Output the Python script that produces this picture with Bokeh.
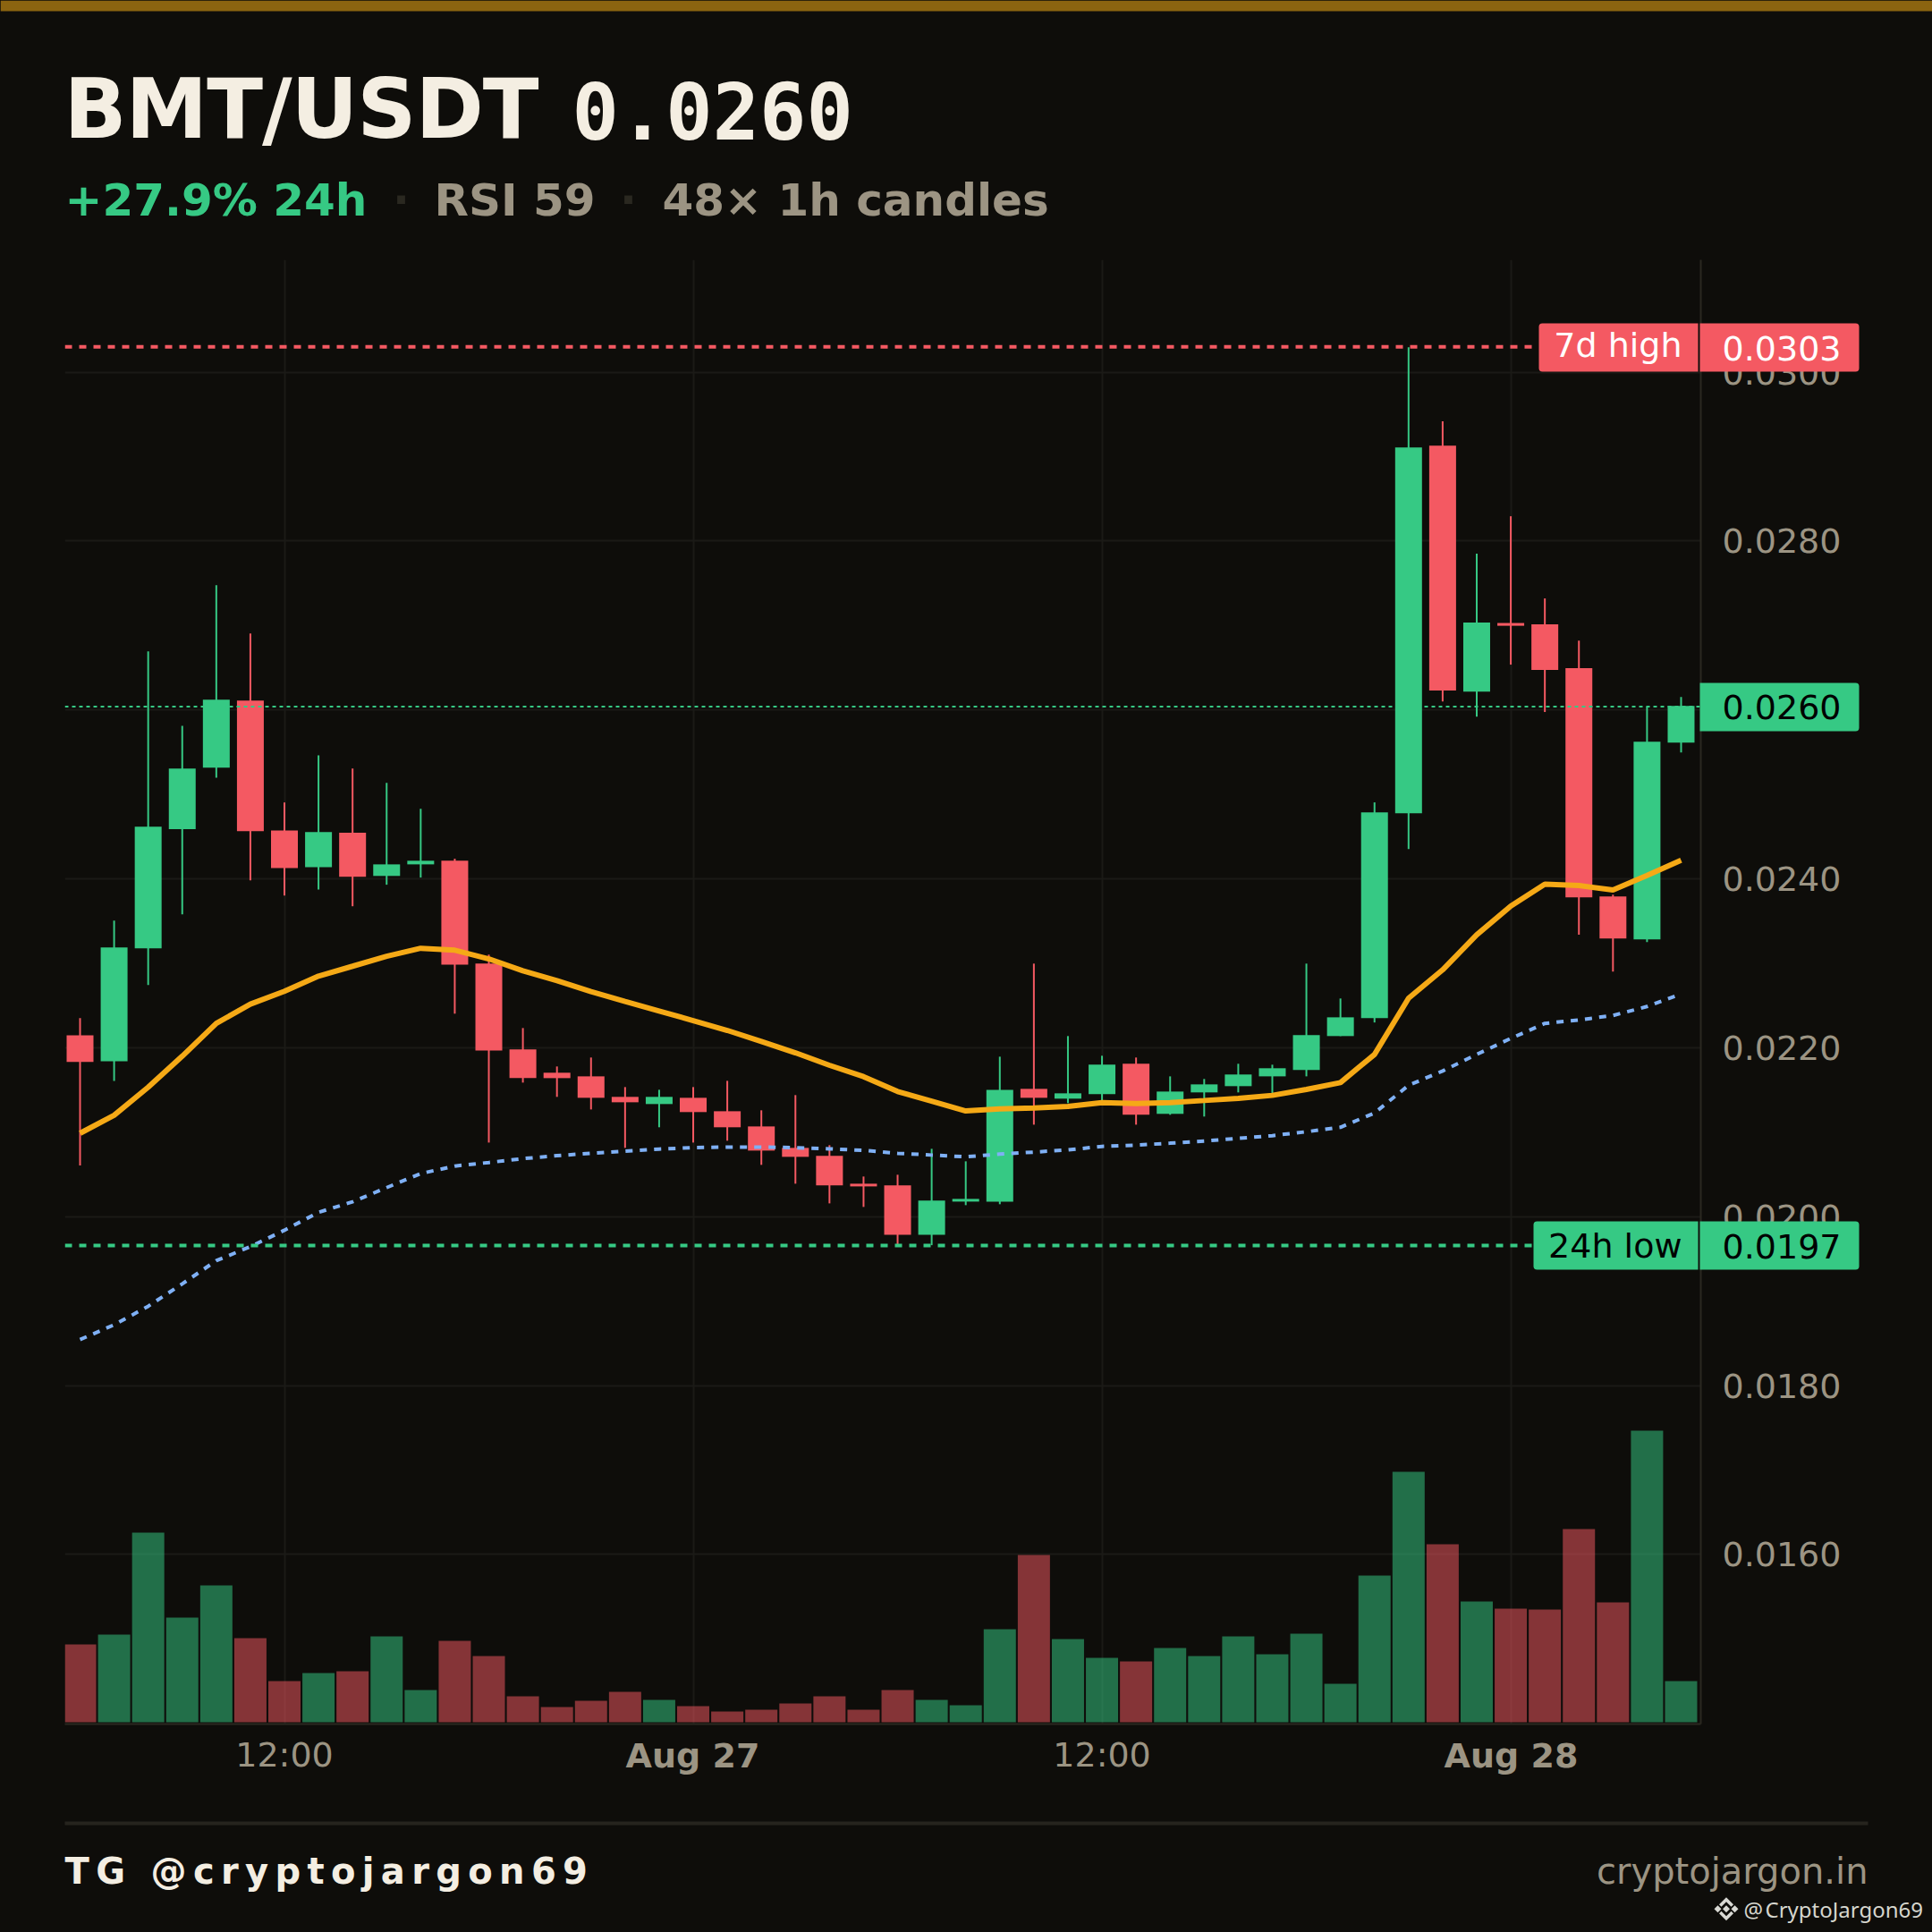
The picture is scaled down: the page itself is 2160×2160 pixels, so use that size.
from bokeh.plotting import figure
from bokeh.embed import file_html
from bokeh.resources import INLINE
from bokeh.models import (Range1d, FixedTicker, NumeralTickFormatter, Label,
                          BoxAnnotation, PolyAnnotation)

highs = [.022352,.023505,.026693,.025813,.027478,.026906,.024905,.025463,.025307,.025137,.024830,.024239,
         .023103,.022234,.021779,.021885,.021535,.021503,.021535,.021609,.021260,.021440,.020847,.020476,
         .020497,.020804,.020656,.021895,.022997,.022139,.021906,.021885,.021662,.021631,.021811,.021800,
         .022997,.022584,.024906,.030296,.029419,.027851,.028294,.027321,.026821,.023813,.026040,.026154]
opens = [.022148,.021840,.023179,.024588,.025317,.026111,.024574,.024139,.024546,.024035,.024172,.024215,
         .022997,.021980,.021705,.021662,.021419,.021334,.021408,.021249,.021069,.020815,.020720,.020391,
         .020370,.019787,.020179,.020179,.021514,.021398,.021451,.021811,.021218,.021472,.021546,.021662,
         .021737,.022139,.022351,.024777,.029131,.026218,.027030,.027013,.026495,.023792,.023284,.025613]
closes = [.021832,.023189,.024617,.025307,.026121,.024565,.024129,.024555,.024026,.024172,.024215,.022985,
          .021969,.021641,.021641,.021408,.021355,.021419,.021239,.021059,.020783,.020709,.020370,.020359,
          .019787,.020190,.020211,.021503,.021408,.021461,.021800,.021207,.021482,.021567,.021684,.021758,
          .022150,.022361,.024787,.029109,.026230,.027035,.026997,.026473,.023781,.023295,.025624,.026048]
lows = [.020606,.021609,.022744,.023581,.025198,.023983,.023803,.023874,.023676,.023931,.024016,.022404,
        .020878,.021588,.021419,.021270,.020815,.021059,.020878,.020900,.020614,.020391,.020158,.020116,
        .019671,.019663,.020137,.020148,.021090,.021345,.021355,.021090,.021207,.021186,.021472,.021451,
        .021662,.022139,.022300,.024353,.026101,.025921,.026537,.025976,.023338,.022902,.023251,.025497]
ema_fast = [.020988,.021202,.021533,.021901,.022289,.022517,.022669,.022849,.022966,.023084,.023179,.023156,
            .023053,.022912,.022796,.022665,.022549,.022436,.022322,.022206,.022075,.021941,.021793,.021659,
            .021482,.021369,.021252,.021278,.021288,.021305,.021352,.021341,.021352,.021376,.021401,.021437,
            .021507,.021588,.021922,.022587,.022923,.023338,.023678,.023938,.023922,.023868,.024041,.024220]
ema_slow = [.018545,.018720,.018940,.019205,.019480,.019646,.019840,.020052,.020176,.020345,.020511,.020600,
            .020642,.020688,.020723,.020751,.020776,.020801,.020818,.020825,.020825,.020818,.020804,.020786,
            .020751,.020730,.020709,.020741,.020765,.020791,.020833,.020847,.020871,.020896,.020928,.020960,
            .021006,.021059,.021228,.021556,.021726,.021922,.022111,.022289,.022330,.022383,.022489,.022637]
volumes = [87,98,212,117,153,94,46,55,57,96,36,91,74,29,17,24,34,25,18,12,14,21,29,14,
           36,25,19,104,187,93,72,68,83,74,96,76,99,43,164,280,199,135,127,126,216,134,326,46]
price_ticks = [0.016,0.018,0.020,0.022,0.024,0.026,0.028,0.030]
time_ticks = {6:"12:00",18:"Aug 27",30:"12:00",42:"Aug 28"}
high_7d, low_24h, last_price = 0.03030, 0.01966, 0.02604

BG, GREEN, RED = "#0e0d0a", "#36c984", "#f45962"
CREAM, MUTED, RULE, GRID = "#f4eee2", "#9c9483", "#2a2820", "#1b1a16"
FONT = "DejaVu Sans"

xs = list(range(len(closes)))
up = [c >= o_ for o_, c in zip(opens, closes)]
cols = [GREEN if u else RED for u in up]

p = figure(width=2160, height=2160, output_backend="svg", toolbar_location=None,
           x_range=Range1d(-0.4464, 47.578), y_range=Range1d(0.013993, 0.03133),
           y_axis_location="right", min_border_left=72, min_border_right=259,
           min_border_top=290, min_border_bottom=233,
           background_fill_color=None, border_fill_color=None, outline_line_color=None,
           styles={"background-color": BG})
p.extra_y_ranges = {"vol": Range1d(-2, 1635)}

p.yaxis.ticker = FixedTicker(ticks=price_ticks)
p.yaxis.formatter = NumeralTickFormatter(format="0.0000")
p.xaxis.ticker = FixedTicker(ticks=list(time_ticks))
p.xaxis.major_label_overrides = {k: (v if ":" in v else " ") for k, v in time_ticks.items()}
for ax in (p.xaxis[0], p.yaxis[0]):
    ax.axis_line_color = RULE
    ax.axis_line_width = 2
    ax.major_tick_line_color = None
    ax.minor_tick_line_color = None
    ax.major_label_text_color = MUTED
    ax.major_label_text_font = FONT
    ax.major_label_text_font_size = "38px"
p.yaxis.major_label_standoff = 18
p.xaxis.major_label_standoff = 6
p.grid.grid_line_color = GRID
p.grid.grid_line_width = 2

p.vbar(xs, width=0.945, bottom=0, top=volumes, fill_color=cols, fill_alpha=0.52, line_color=None,
       y_range_name="vol")
p.segment(xs, lows, xs, highs, line_color=cols, line_width=2)
p.vbar(xs, width=0.788, bottom=opens, top=closes, fill_color=cols, line_color=None)
p.line(xs, ema_slow, line_color="#7fb0f5", line_width=4, line_dash="8 8")
p.line(xs, ema_fast, line_color="#f5a916", line_width=6)
p.segment([-0.4464], [high_7d], [42.62], [high_7d], line_color=RED, line_width=4, line_dash="8 8")
p.segment([-0.4464], [low_24h], [42.62], [low_24h], line_color=GREEN, line_width=4, line_dash="8 8")
p.segment([-0.4464], [last_price], [47.578], [last_price], line_color=GREEN, line_width=2, line_dash="4 4")

# Second, transparent layer: title block, price tags and footer, placed in page pixels.
o = figure(width=2160, height=2160, output_backend="svg", toolbar_location=None,
           x_range=Range1d(0, 2160), y_range=Range1d(2160, 0), x_axis_type=None, y_axis_type=None,
           min_border=0, background_fill_color=None, border_fill_color=None, outline_line_color=None,
           styles={"position": "absolute", "left": "0px", "top": "0px"})
o.grid.visible = False

BASELINE_K = 0.35


def box(x0, y0, x1, y1, color, radius=0):
    o.add_layout(BoxAnnotation(left=x0, right=x1, top=y0, bottom=y1,
                               fill_color=color, fill_alpha=1, line_color=None,
                               border_radius=radius))


def text(x, y, s, color, size, style="normal", align="left", font=FONT):
    o.add_layout(Label(x=x, y=y - BASELINE_K * size, text=s, text_color=color, text_font=font,
                       text_font_size=f"{size}px", text_font_style=style,
                       text_align=align, text_baseline="alphabetic"))


box(0, 0, 2160, 12, "#8b6410")
box(72, 2036, 2088, 2040, "#26241e")

text(71, 154, "BMT/USDT", CREAM, 92, "bold")
text(639, 154, "0.0260", CREAM, 87, "bold", font="DejaVu Sans Mono")
text(72, 241, "+27.9% 24h", GREEN, 50, "bold")
text(448, 241, "·", RULE, 50, "bold", "center")
text(485, 241, "RSI 59", MUTED, 50, "bold")
text(702, 241, "·", RULE, 50, "bold", "center")
text(740, 241, "48× 1h candles", MUTED, 50, "bold")

box(1720, 361, 1898, 415, RED, (4, 0, 0, 4))
box(1900, 361, 2078, 415, RED, (0, 4, 4, 0))
box(1714, 1365, 1898, 1419, GREEN, (4, 0, 0, 4))
box(1900, 1365, 2078, 1419, GREEN, (0, 4, 4, 0))
box(1900, 763, 2078, 817, GREEN, (0, 4, 4, 0))
text(1880, 399, "7d high", "#ffffff", 38, align="right")
text(2058, 402, "0.0303", "#ffffff", 38, align="right")
text(1880, 1406, "24h low", "#000000", 38, align="right")
text(2058, 1406, "0.0197", "#000000", 38, align="right")
text(2058, 803, "0.0260", "#000000", 38, align="right")

text(774, 1976, time_ticks[18], MUTED, 38, "bold", "center")
text(1689, 1976, time_ticks[42], MUTED, 38, "bold", "center")

text(72, 2105, "TG @cryptojargon69", CREAM, 40, "bold")
text(2088, 2105, "cryptojargon.in", MUTED, 40, align="right")
text(1949, 2142, "@", "#d6d6ce", 24, font="Noto Sans")
text(1973, 2142, "CryptoJargon69", "#d6d6ce", 24, font="Noto Sans")

LOGO = "#d9d9d4"
cx, cy = 1929.5, 2133.7
for pts in ([(-4, 0), (0, -4), (4, 0), (0, 4)],
            [(-13.5, 0), (-9.5, -4), (-5.5, 0), (-9.5, 4)],
            [(13.5, 0), (9.5, -4), (5.5, 0), (9.5, 4)],
            [(0, -13), (8, -5), (5.5, -2.5), (0, -8), (-5.5, -2.5), (-8, -5)],
            [(0, 13), (8, 5), (5.5, 2.5), (0, 8), (-5.5, 2.5), (-8, 5)]):
    o.add_layout(PolyAnnotation(xs=[cx + a for a, b in pts], ys=[cy + b for a, b in pts],
                                fill_color=LOGO, fill_alpha=1, line_color=None))

SPACING_JS = """
<script>
(function () {
  function walk(root, out) {
    root.querySelectorAll('*').forEach(function (e) {
      if (e.tagName.toLowerCase() === 'text') out.push(e);
      if (e.shadowRoot) walk(e.shadowRoot, out);
    });
    return out;
  }
  function apply() {
    walk(document, []).forEach(function (t) {
      var s = t.textContent.replace(/\\s+/g, ' ').trim();
      if (s === 'TG @cryptojargon69') t.style.letterSpacing = '7.35px';
      if (s === 'BMT/USDT') t.style.letterSpacing = '-1px';
    });
  }
  [200, 500, 1000, 2000, 3000].forEach(function (ms) { setTimeout(apply, ms); });
})();
</script>
"""

html = file_html([p, o], INLINE)
html = html.replace("<body>", f'<body style="margin:0;background:{BG}">', 1)
html = html.replace("<html", f'<html style="background:{BG}"', 1)
html = html.replace("</body>", SPACING_JS + "</body>", 1)
open("out.html", "w").write(html)
